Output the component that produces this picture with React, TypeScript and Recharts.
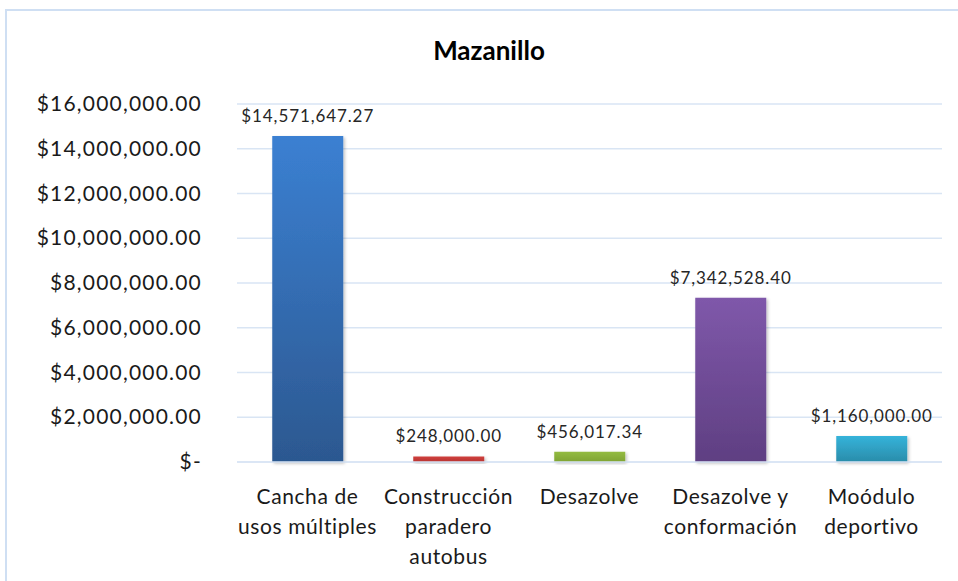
import React from "react";
import { BarChart, Bar, XAxis, YAxis, CartesianGrid, Cell, LabelList } from "recharts";

const categories = [
  "Cancha de usos múltiples",
  "Construcción paradero autobus",
  "Desazolve",
  "Desazolve y conformación",
  "Moódulo deportivo",
];
const categoryLines = [
  ["Cancha de", "usos múltiples"],
  ["Construcción", "paradero", "autobus"],
  ["Desazolve"],
  ["Desazolve y", "conformación"],
  ["Moódulo", "deportivo"],
];
const amounts = [14571647.27, 248000.0, 456017.34, 7342528.4, 1160000.0];
const yTicks = [0, 2000000, 4000000, 6000000, 8000000, 10000000, 12000000, 14000000, 16000000];
const gradients = [
  ["#3b80d2", "#2c5890"],
  ["#d0403c", "#b83432"],
  ["#93bb40", "#7fa333"],
  ["#7f58aa", "#5f3f82"],
  ["#35b3da", "#2a8caa"],
];

const data = categories.map((name, i) => ({ name, value: amounts[i], idx: i }));

const FONT = "Lato, 'Open Sans', sans-serif";

const money = (v: number) =>
  v === 0
    ? "$-"
    : "$" + v.toLocaleString("en-US", { minimumFractionDigits: 2, maximumFractionDigits: 2 });

const YTick = ({ x, y, payload }: any) => (
  <text
    x={x - 27}
    y={y}
    dy={7}
    textAnchor="end"
    fontSize={21}
    fill="#1a1a1a"
    fontFamily={FONT}
    letterSpacing={1.2}
  >
    {money(payload.value)}
  </text>
);

const XTick = ({ x, y, payload }: any) => {
  const i = categories.indexOf(payload.value);
  const lines = categoryLines[i] || [payload.value];
  return (
    <text x={x} y={y} textAnchor="middle" fontSize={21} fill="#1a1a1a" fontFamily={FONT} letterSpacing={0.6}>
      {lines.map((l, k) => (
        <tspan key={k} x={x} y={y + 34 + k * 30}>
          {l}
        </tspan>
      ))}
    </text>
  );
};

export default function App() {
  return (
    <div style={{ position: "absolute", left: 0, top: 0, width: 958, height: 581, background: "#fff", overflow: "hidden" }}>
      <div
        style={{
          position: "absolute",
          left: 5,
          top: 9,
          width: 980,
          height: 600,
          border: "2px solid #cfdff3",
          boxSizing: "border-box",
        }}
      />
      <div
        style={{
          position: "absolute",
          left: 0,
          width: 958,
          top: 34,
          textAlign: "center",
          fontFamily: FONT,
          fontWeight: 700,
          fontSize: 26,
          color: "#000",
          paddingLeft: 20,
          boxSizing: "border-box",
        }}
      >
        Mazanillo
      </div>
      <div style={{ position: "absolute", left: 0, top: 0 }}>
        <BarChart
          width={958}
          height={581}
          data={data}
          margin={{ top: 104, right: 16, left: 0, bottom: 0 }}
          barCategoryGap="25%"
        >
          <defs>
            {gradients.map((g, i) => (
              <linearGradient key={i} id={`g${i}`} x1="0" y1="0" x2="0" y2="1">
                <stop offset="0%" stopColor={g[0]} />
                <stop offset="100%" stopColor={g[1]} />
              </linearGradient>
            ))}
            <filter id="shadow" x="-10%" y="-10%" width="130%" height="130%">
              <feDropShadow dx="1.5" dy="1.5" stdDeviation="1.5" floodColor="#000" floodOpacity="0.25" />
            </filter>
          </defs>
          <CartesianGrid vertical={false} stroke="#d9e5f4" strokeWidth={1.3} />
          <XAxis
            dataKey="name"
            axisLine={{ stroke: "#d9e5f4", strokeWidth: 1.3 }}
            tickLine={false}
            tick={<XTick />}
            interval={0}
            height={119}
          />
          <YAxis
            domain={[0, 16000000]}
            ticks={yTicks}
            axisLine={false}
            tickLine={false}
            tick={<YTick />}
            width={237}
            interval={0}
          />
          <Bar dataKey="value" isAnimationActive={false} filter="url(#shadow)">
            {data.map((d, i) => (
              <Cell key={i} fill={`url(#g${i})`} />
            ))}
            <LabelList
              dataKey="value"
              position="top"
              offset={14}
              formatter={(v: any) => money(Number(v))}
              style={{ fontSize: 17, fill: "#262626", fontFamily: FONT, letterSpacing: 0.9 }}
            />
          </Bar>
        </BarChart>
      </div>
    </div>
  );
}
